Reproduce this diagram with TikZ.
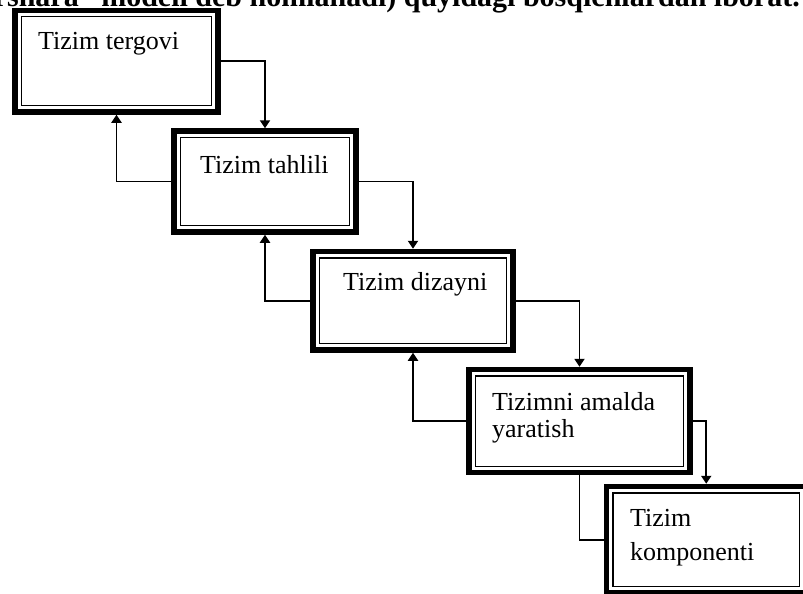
\documentclass[tikz,border=0pt]{standalone}
\usepackage{fontspec}
\setmainfont{Liberation Serif}
\usetikzlibrary{arrows.meta}
\begin{document}
\begin{tikzpicture}[x=1pt,y=-1pt,
  stage/.style={draw, line width=5.5pt, inner sep=0pt,
    path picture={\draw[line width=1.4pt]
      ([shift={(6.3pt,-6.3pt)}]path picture bounding box.north west) rectangle
      ([shift={(-6.3pt,6.3pt)}]path picture bounding box.south east);}},
  caption/.style={anchor=base west, inner sep=0pt, font=\fontsize{26}{30}\selectfont},
  flow/.style={line width=1.8pt, -{Triangle[length=8pt,width=10pt]}},
  link/.style={line width=1.8pt}]
\useasboundingbox (0,0) rectangle (803,594);
\clip (0,0) rectangle (803,594);

% running text line above the chart
\node[anchor=base east, inner sep=0pt, font=\bfseries\fontsize{30}{30}\selectfont]
  (head) at (800,7) {sharshara'' modeli deb nomlanadi) quyidagi bosqichlardan iborat.};

% stages of the waterfall
\node[stage, minimum width=203pt, minimum height=101.5pt] (b1) at (116.5,61.25) {};
\node[stage, minimum width=182pt, minimum height=101pt]   (b2) at (265,181.5) {};
\node[stage, minimum width=200pt, minimum height=98.5pt]  (b3) at (413,300.75) {};
\node[stage, minimum width=221pt, minimum height=103pt]   (b4) at (579.5,421) {};
\node[stage, minimum width=199.5pt, minimum height=106.5pt] (b5) at (706.25,539.75) {};

\node[caption] (t1)  at (38,50)   {Tizim tergovi};
\node[caption] (t2)  at (200,173) {Tizim tahlili};
\node[caption] (t3)  at (343,290) {Tizim dizayni};
\node[caption] (t4a) at (492,410) {Tizimni amalda};
\node[caption] (t4b) at (492,437) {yaratish};
\node[caption] (t5a) at (630,526) {Tizim};
\node[caption] (t5b) at (630,560) {komponenti};

% forward steps
\draw[flow] (b1.east) -| (b2.north);
\draw[flow] (b2.east) -| (b3.north);
\draw[flow] (b3.east) -| (b4.north);
\draw[flow] (b4.east) -| (b5.north);

% feedback to the previous stage
\draw[flow] (b2.west) -| (b1.south);
\draw[flow] (b3.west) -| (b2.south);
\draw[flow] (b4.west) -| (b3.south);
\draw[link] (b4.south) |- (b5.west);
\end{tikzpicture}
\end{document}
